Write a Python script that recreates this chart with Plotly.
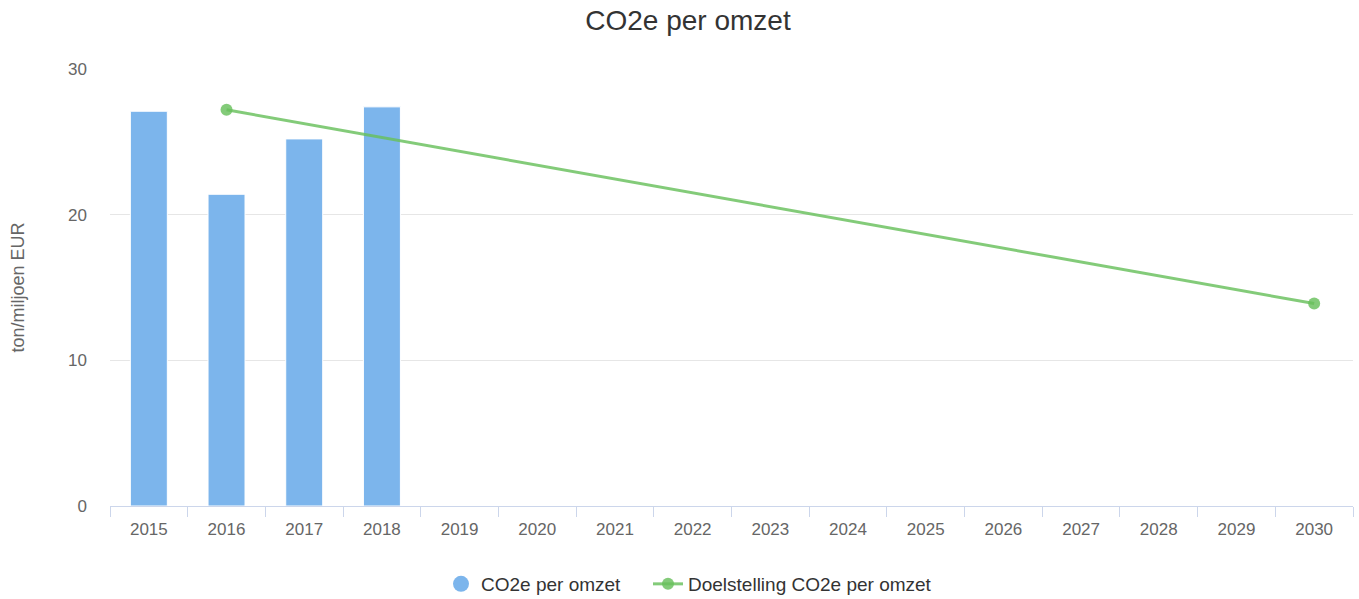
import plotly.graph_objects as go

years = [str(y) for y in range(2015, 2031)]
bar_years = ["2015", "2016", "2017", "2018"]
bar_values = [27.1, 21.4, 25.2, 27.4]
target_years = ["2016", "2030"]
target_values = [27.2, 13.9]
y_ticks = [0, 10, 20, 30]

BLUE = "#7cb5ec"
GREEN = "rgba(104,192,92,0.82)"
FONT = "Liberation Sans, Arial, Helvetica, sans-serif"

PL, PR, PT, PB = 110, 6, 69, 93
PW = 1359 - PL - PR
PH = 599 - PT - PB

fig = go.Figure()
fig.add_trace(go.Bar(
    x=bar_years, y=bar_values, name="CO2e per omzet",
    marker=dict(color=BLUE, line=dict(color="white", width=1)),
    showlegend=False, legendgroup="a",
))
# legend entry with a circle symbol for the bar series
fig.add_trace(go.Scatter(
    x=[None], y=[None], mode="markers", name="CO2e per omzet",
    marker=dict(color=BLUE, size=17, symbol="circle"),
    legendgroup="a", showlegend=True, legend="legend",
))
fig.add_trace(go.Scatter(
    x=target_years, y=target_values, mode="lines+markers",
    name="Doelstelling CO2e per omzet",
    line=dict(color=GREEN, width=3),
    marker=dict(color=GREEN, size=12),
    legend="legend2",
))

leg_common = dict(orientation="h", xanchor="left", y=-78 / PH, yanchor="middle",
                  font=dict(size=19, color="#333333", family=FONT),
                  itemwidth=30, bgcolor="rgba(0,0,0,0)")

fig.update_layout(
    width=1359, height=599,
    margin=dict(l=PL, r=PR, t=PT, b=PB, autoexpand=False),
    paper_bgcolor="white", plot_bgcolor="white",
    font=dict(family=FONT, color="#666666"),
    title=dict(text="CO2e per omzet", x=688 / 1359, xanchor="center",
               y=1 - 20 / 599, yanchor="middle",
               font=dict(size=28, color="#333333", family=FONT)),
    bargap=0.524,
    legend=dict(x=(441 - PL) / PW, **leg_common),
    legend2=dict(x=(648 - PL) / PW, **leg_common),
    showlegend=True,
)
fig.update_xaxes(
    type="category", categoryorder="array", categoryarray=years,
    range=[-0.5, len(years) - 0.5], automargin=False,
    tickson="boundaries", ticks="outside", ticklen=10, tickcolor="#ccd6eb",
    showline=True, linecolor="#ccd6eb", linewidth=1,
    ticklabelstandoff=8,
    showgrid=False, tickfont=dict(size=17, color="#666666"),
)
fig.update_yaxes(
    range=[0, 30], tickvals=y_ticks, showgrid=True, gridcolor="#e6e6e6",
    zeroline=False, showline=False, ticklabelstandoff=22, automargin=False,
    tickfont=dict(size=17, color="#666666"),
    title=dict(text="ton/miljoen EUR", standoff=38,
               font=dict(size=18, color="#666666")),
)

fig.write_html("out.html",
               config={"displayModeBar": False},
               post_script="document.body.style.margin='0';document.body.style.overflow='hidden';")
